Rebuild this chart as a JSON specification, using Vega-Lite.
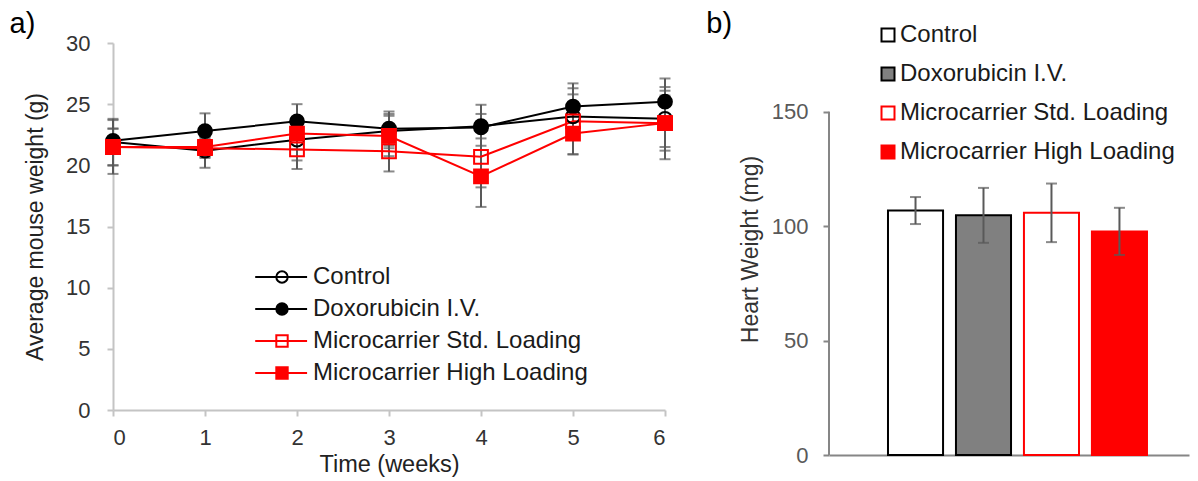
{
  "$schema": "https://vega.github.io/schema/vega-lite/v6.json",
  "background": "white",
  "padding": {"left": 9, "top": 10, "right": 5, "bottom": 2},
  "spacing": 30,
  "resolve": {
    "scale": {"fill": "independent", "stroke": "independent", "shape": "independent", "color": "independent"}
  },
  "config": {
    "font": "Liberation Sans",
    "view": {"stroke": null},
    "axis": {"grid": false, "titleFontWeight": "normal", "labelFont": "Liberation Sans", "titleFont": "Liberation Sans"},
    "legend": {"labelFont": "Liberation Sans", "padding": 0}
  },
  "hconcat": [
    {
      "width": 552,
      "height": 367,
      "title": {"text": "a)", "anchor": "start", "frame": "bounds", "fontSize": 29, "fontWeight": "normal", "color": "#000000", "baseline": "alphabetic", "offset": -30, "dx": -15},
      "data": {
        "values": [
          {"week": 0, "series": "Control", "mean": 21.9, "err": 1.9},
          {"week": 1, "series": "Control", "mean": 21.2, "err": 1.4},
          {"week": 2, "series": "Control", "mean": 22.1, "err": 1.7},
          {"week": 3, "series": "Control", "mean": 22.8, "err": 1.4},
          {"week": 4, "series": "Control", "mean": 23.2, "err": 1.0},
          {"week": 5, "series": "Control", "mean": 24.0, "err": 1.8},
          {"week": 6, "series": "Control", "mean": 23.8, "err": 2.3},
          {"week": 0, "series": "Doxorubicin I.V.", "mean": 22.0, "err": 1.0},
          {"week": 1, "series": "Doxorubicin I.V.", "mean": 22.8, "err": 1.45},
          {"week": 2, "series": "Doxorubicin I.V.", "mean": 23.6, "err": 1.4},
          {"week": 3, "series": "Doxorubicin I.V.", "mean": 23.0, "err": 1.4},
          {"week": 4, "series": "Doxorubicin I.V.", "mean": 23.1, "err": 1.85},
          {"week": 5, "series": "Doxorubicin I.V.", "mean": 24.8, "err": 1.9},
          {"week": 6, "series": "Doxorubicin I.V.", "mean": 25.2, "err": 1.9},
          {"week": 0, "series": "Microcarrier Std. Loading", "mean": 21.5, "err": 2.2},
          {"week": 1, "series": "Microcarrier Std. Loading", "mean": 21.4, "err": 0.8},
          {"week": 2, "series": "Microcarrier Std. Loading", "mean": 21.3, "err": 1.6},
          {"week": 3, "series": "Microcarrier Std. Loading", "mean": 21.15, "err": 1.65},
          {"week": 4, "series": "Microcarrier Std. Loading", "mean": 20.7, "err": 2.5},
          {"week": 5, "series": "Microcarrier Std. Loading", "mean": 23.6, "err": 2.7},
          {"week": 6, "series": "Microcarrier Std. Loading", "mean": 23.45, "err": 2.95},
          {"week": 0, "series": "Microcarrier High Loading", "mean": 21.5, "err": 1.5},
          {"week": 1, "series": "Microcarrier High Loading", "mean": 21.5, "err": 0.8},
          {"week": 2, "series": "Microcarrier High Loading", "mean": 22.6, "err": 1.3},
          {"week": 3, "series": "Microcarrier High Loading", "mean": 22.4, "err": 1.65},
          {"week": 4, "series": "Microcarrier High Loading", "mean": 19.1, "err": 2.5},
          {"week": 5, "series": "Microcarrier High Loading", "mean": 22.6, "err": 1.7},
          {"week": 6, "series": "Microcarrier High Loading", "mean": 23.45, "err": 2.25}
        ]
      },
      "encoding": {
        "x": {
          "field": "week", "type": "quantitative",
          "scale": {"domain": [0, 6], "nice": false, "zero": false},
          "axis": {"values": [0, 1, 2, 3, 4, 5, 6], "format": "d", "title": "Time (weeks)", "titleFontSize": 23.5, "titleColor": "#222222", "titlePadding": 4, "labelFontSize": 22, "labelColor": "#333333", "labelPadding": 11, "domainColor": "#c4c4c4", "domainWidth": 2, "tickColor": "#c4c4c4", "tickWidth": 2, "tickSize": 6}
        },
        "y": {
          "field": "mean", "type": "quantitative",
          "scale": {"domain": [0, 30], "nice": false},
          "axis": {"values": [0, 5, 10, 15, 20, 25, 30], "title": "Average mouse weight (g)", "titleFontSize": 23, "titleColor": "#222222", "titlePadding": 18, "labelFontSize": 22, "labelColor": "#333333", "labelPadding": 17, "domainColor": "#c4c4c4", "domainWidth": 2, "tickColor": "#c4c4c4", "tickWidth": 2, "tickSize": 6}
        }
      },
      "layer": [
        {
          "mark": {"type": "errorbar", "ticks": {"size": 11}, "thickness": 2, "color": "#595959"},
          "encoding": {"yError": {"field": "err"}, "detail": {"field": "series"}}
        },
        {
          "mark": {"type": "line", "strokeWidth": 2},
          "encoding": {
            "color": {
              "field": "series", "type": "nominal",
              "sort": ["Control", "Doxorubicin I.V.", "Microcarrier Std. Loading", "Microcarrier High Loading"],
              "scale": {"range": ["#000000", "#000000", "#ff0000", "#ff0000"]},
              "legend": {"title": null, "orient": "none", "legendX": 157, "legendY": 222, "labelFontSize": 24, "labelOpacity": 0, "labelLimit": 500, "symbolType": "M-4.7,0H4.4", "symbolSize": 130, "symbolStrokeWidth": 2, "labelOffset": 19, "rowPadding": 8}
            }
          }
        },
        {
          "mark": {"type": "point", "size": 190, "strokeWidth": 2, "opacity": 1},
          "encoding": {
            "stroke": {
              "field": "series", "type": "nominal",
              "scale": {"domain": ["Control", "Doxorubicin I.V.", "Microcarrier Std. Loading", "Microcarrier High Loading"], "range": ["#000000", "#000000", "#ff0000", "#ff0000"]},
              "legend": {"title": null, "orient": "none", "legendX": 157, "legendY": 222, "labelFontSize": 24, "labelColor": "#1a1a1a", "labelLimit": 500, "symbolSize": 130, "symbolStrokeWidth": 2, "labelOffset": 19, "rowPadding": 8}
            },
            "fill": {
              "field": "series", "type": "nominal",
              "scale": {"domain": ["Control", "Doxorubicin I.V.", "Microcarrier Std. Loading", "Microcarrier High Loading"], "range": ["transparent", "#000000", "transparent", "#ff0000"]},
              "legend": {"title": null, "orient": "none", "legendX": 157, "legendY": 222, "labelFontSize": 24, "labelColor": "#1a1a1a", "labelLimit": 500, "symbolSize": 130, "symbolStrokeWidth": 2, "labelOffset": 19, "rowPadding": 8}
            },
            "shape": {
              "field": "series", "type": "nominal",
              "scale": {"domain": ["Control", "Doxorubicin I.V.", "Microcarrier Std. Loading", "Microcarrier High Loading"], "range": ["circle", "circle", "square", "square"]},
              "legend": {"title": null, "orient": "none", "legendX": 157, "legendY": 222, "labelFontSize": 24, "labelColor": "#1a1a1a", "labelLimit": 500, "symbolSize": 130, "symbolStrokeWidth": 2, "labelOffset": 19, "rowPadding": 8}
            }
          }
        }
      ]
    },
    {
      "width": 360,
      "height": 412,
      "title": {"text": "b)", "anchor": "start", "frame": "bounds", "fontSize": 29, "fontWeight": "normal", "color": "#000000", "baseline": "alphabetic", "offset": -39, "dx": -33},
      "data": {
        "values": [
          {"group": "Control", "weight": 106.8, "err": 5.9},
          {"group": "Doxorubicin I.V.", "weight": 104.7, "err": 12.0},
          {"group": "Microcarrier Std. Loading", "weight": 105.8, "err": 12.8},
          {"group": "Microcarrier High Loading", "weight": 97.7, "err": 10.3}
        ]
      },
      "encoding": {
        "x": {
          "field": "group", "type": "nominal", "sort": null,
          "scale": {"paddingInner": 0.19, "paddingOuter": 0.743, "align": 0.584},
          "axis": {"labels": false, "ticks": false, "title": null, "domainColor": "#868686", "domainWidth": 2}
        },
        "y": {
          "field": "weight", "type": "quantitative",
          "scale": {"domain": [0, 180], "nice": false},
          "axis": {"values": [0, 50, 100, 150], "domain": false, "title": "Heart Weight (mg)", "titleFontSize": 23, "titleColor": "#333333", "titlePadding": 9, "labelFontSize": 22, "labelColor": "#595959", "labelPadding": 15, "tickColor": "#868686", "tickWidth": 2, "tickSize": 6}
        }
      },
      "layer": [
        {
          "mark": {"type": "bar", "strokeWidth": 2},
          "encoding": {
            "fill": {
              "field": "group", "type": "nominal",
              "scale": {"domain": ["Control", "Doxorubicin I.V.", "Microcarrier Std. Loading", "Microcarrier High Loading"], "range": ["#ffffff", "#808080", "#ffffff", "#ff0000"]},
              "legend": {"title": null, "orient": "none", "legendX": 47, "legendY": -20, "labelFontSize": 24, "labelColor": "#1a1a1a", "labelLimit": 500, "symbolType": "square", "symbolSize": 169, "symbolStrokeWidth": 2, "labelOffset": 0, "rowPadding": 15}
            },
            "stroke": {
              "field": "group", "type": "nominal",
              "scale": {"domain": ["Control", "Doxorubicin I.V.", "Microcarrier Std. Loading", "Microcarrier High Loading"], "range": ["#000000", "#000000", "#ff0000", "#ff0000"]},
              "legend": {"title": null, "orient": "none", "legendX": 47, "legendY": -20, "labelFontSize": 24, "labelColor": "#1a1a1a", "labelLimit": 500, "symbolType": "square", "symbolSize": 169, "symbolStrokeWidth": 2, "labelOffset": 0, "rowPadding": 15}
            }
          }
        },
        {
          "mark": {"type": "errorbar", "ticks": {"size": 11}, "thickness": 2, "color": "#595959"},
          "encoding": {"yError": {"field": "err"}}
        },
        {
          "data": {"values": [{"lo": 0, "hi": 150}]},
          "mark": {"type": "rule", "color": "#868686", "strokeWidth": 2},
          "encoding": {
            "x": {"value": 0},
            "y": {"field": "lo", "type": "quantitative"},
            "y2": {"field": "hi"}
          }
        }
      ]
    }
  ]
}
